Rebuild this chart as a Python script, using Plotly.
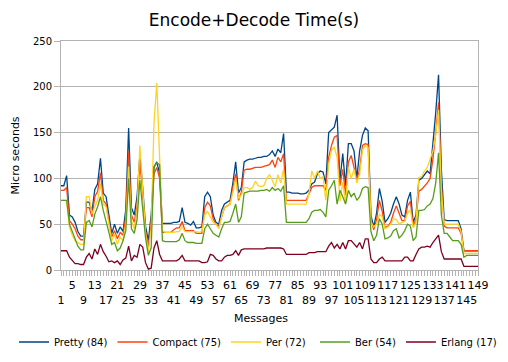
import plotly.graph_objects as go

messages = list(range(1, 150))

pretty = [92, 92, 103, 60, 58, 52, 42, 37, 37, 74,
          74, 64, 88, 94, 122, 84, 80, 62, 40, 50,
          40, 47, 42, 66, 155, 68, 60, 80, 126, 90,
          48, 32, 60, 112, 118, 105, 51, 51, 51, 51,
          52, 52, 53, 68, 52, 51, 49, 53, 46, 46,
          47, 80, 85, 80, 60, 52, 50, 65, 72, 74,
          76, 95, 118, 84, 90, 118, 120, 121, 121, 122,
          123, 123, 124, 124, 126, 130, 124, 132, 128, 149,
          85, 85, 84, 84, 84, 83, 83, 84, 87, 94,
          96, 105, 108, 107, 94, 150, 153, 156, 169, 98,
          127, 92, 138, 138, 130, 100, 130, 147, 155, 152,
          60, 47, 62, 89, 75, 52, 56, 62, 72, 80,
          72, 60, 58, 76, 85, 52, 60, 98, 100, 104,
          108, 105, 135, 172, 213, 110, 55, 54, 54, 54,
          54, 54, 45, 21, 21, 21, 21, 21, 21]

compact = [87, 87, 90, 54, 50, 45, 37, 33, 33, 68,
           68, 58, 80, 86, 106, 76, 72, 54, 36, 43,
           34, 41, 38, 58, 130, 60, 52, 70, 118, 82,
           42, 26, 50, 105, 112, 100, 41, 41, 41, 41,
           44, 46, 46, 53, 43, 43, 43, 43, 40, 40,
           40, 68, 74, 70, 56, 50, 48, 58, 68, 70,
           72, 90, 105, 76, 85, 109, 110, 110, 111, 112,
           112, 112, 113, 114, 115, 120, 112, 123, 118, 127,
           76, 76, 76, 76, 76, 76, 76, 76, 83, 90,
           92, 92, 92, 92, 87, 123, 136, 145, 147, 92,
           110, 82, 118, 125, 112, 98, 110, 136, 138, 137,
           55, 44, 55, 76, 64, 46, 48, 52, 62, 70,
           62, 54, 54, 70, 75, 48, 55, 86, 88, 91,
           95, 100, 121, 150, 183, 95, 48, 46, 46, 46,
           46, 46, 40, 21, 21, 21, 21, 21, 21]

per = [76, 76, 76, 47, 38, 32, 30, 28, 28, 80,
       80, 61, 69, 76, 94, 72, 69, 50, 32, 39,
       28, 36, 32, 50, 113, 54, 45, 65, 136, 88,
       40, 20, 45, 160, 204, 123, 43, 41, 41, 41,
       41, 42, 42, 47, 42, 42, 42, 42, 42, 41,
       42, 60, 64, 58, 52, 50, 45, 58, 68, 70,
       72, 85, 100, 78, 82, 90, 90, 88, 90, 97,
       92, 91, 92, 100, 104, 98, 91, 104, 95, 110,
       72, 72, 72, 72, 72, 72, 72, 72, 83, 108,
       100, 108, 100, 102, 76, 116, 131, 134, 123, 75,
       96, 72, 112, 100, 110, 95, 105, 131, 136, 134,
       52, 47, 50, 61, 58, 45, 47, 50, 56, 55,
       50, 52, 53, 62, 66, 46, 52, 101, 102, 108,
       112, 120, 130, 148, 175, 85, 50, 50, 50, 50,
       50, 50, 42, 18, 18, 18, 18, 18, 18]

ber = [76, 76, 76, 50, 42, 32, 26, 22, 22, 52,
       54, 47, 61, 69, 80, 65, 54, 41, 28, 30,
       21, 24, 32, 43, 100, 45, 40, 55, 98, 65,
       35, 16, 24, 113, 117, 115, 32, 31, 31, 31,
       31, 31, 33, 40, 32, 30, 30, 30, 29, 29,
       29, 45, 50, 45, 40, 38, 36, 45, 52, 52,
       53, 62, 72, 52, 58, 84, 85, 86, 86, 86,
       86, 87, 87, 88, 86, 90, 87, 89, 86, 92,
       52, 52, 52, 52, 52, 52, 52, 52, 56, 63,
       65, 65, 66, 63, 58, 87, 92, 98, 72, 87,
       80, 72, 87, 80, 84, 76, 80, 89, 91, 90,
       42, 32, 38, 56, 50, 34, 35, 37, 43, 45,
       35, 38, 43, 50, 48, 32, 36, 65, 65, 66,
       70, 72, 78, 95, 128, 60, 40, 40, 36, 32,
       32, 32, 28, 14, 16, 16, 16, 16, 16]

erlang = [21, 21, 21, 14, 10, 7, 7, 6, 6, 14,
          18, 12, 23, 17, 28, 20, 15, 9, 10, 8,
          10, 6, 11, 13, 26, 10, 16, 14, 28, 25,
          8, 1, 2, 24, 32, 17, 10, 10, 10, 10,
          10, 10, 12, 16, 10, 10, 10, 10, 10, 10,
          8, 8, 9, 17, 16, 12, 10, 10, 14, 16,
          16, 17, 21, 16, 22, 23, 23, 23, 23, 23,
          23, 23, 23, 24, 24, 24, 24, 24, 24, 23,
          17, 17, 17, 17, 17, 17, 17, 17, 19, 19,
          19, 20, 20, 20, 20, 26, 30, 24, 28, 23,
          30, 23, 32, 32, 28, 25, 30, 23, 34, 34,
          12, 8, 8, 12, 14, 10, 10, 10, 10, 10,
          10, 10, 14, 14, 10, 10, 17, 23, 25, 25,
          26, 25, 30, 34, 38, 20, 12, 12, 12, 12,
          12, 12, 12, 4, 4, 4, 4, 4, 4]

series_names = ["Pretty (84)", "Compact (75)", "Per (72)", "Ber (54)", "Erlang (17)"]
series_values = [pretty, compact, per, ber, erlang]
series_colors = ["#004586", "#ff420e", "#ffd320", "#579d1c", "#7e0021"]
series_legend = ["legend", "legend", "legend", "legend2", "legend2"]

# labels every 4 messages, alternating between an upper and a lower row
tick_values = list(range(1, 150, 4))
tick_labels = [("<br>" + str(v)) if ((v - 1) // 4) % 2 == 0 else str(v) for v in tick_values]

FONT = "DejaVu Sans"
GRID = "#b3b3b3"

fig = go.Figure()
for name, vals, col, lg in zip(series_names, series_values, series_colors, series_legend):
    fig.add_trace(go.Scatter(x=messages, y=vals, mode="lines", name=name, legend=lg,
                             line=dict(color=col, width=1.3)))

legend_common = dict(orientation="h", xref="container", yref="container",
                     xanchor="left", y=20 / 362, yanchor="middle",
                     itemwidth=30, borderwidth=0,
                     font=dict(family=FONT, size=10, color="black"),
                     bgcolor="rgba(0,0,0,0)", traceorder="normal")

fig.update_layout(
    width=508, height=362,
    paper_bgcolor="white", plot_bgcolor="white",
    margin=dict(l=61, r=30, t=41, b=92, autoexpand=False),
    font=dict(family=FONT, color="black", size=11),
    title=dict(text="Encode+Decode Time(s)", x=0.5, xanchor="center",
               y=1 - 20 / 362, yanchor="middle",
               font=dict(family=FONT, size=17, color="black")),
    showlegend=True,
    legend=dict(x=14 / 508, **legend_common),
    legend2=dict(x=315 / 508, **legend_common),
    xaxis=dict(range=[1, 149], tickmode="array", tickvals=tick_values, ticktext=tick_labels,
               automargin=False,
               showgrid=False, zeroline=False, showline=True, linecolor=GRID, linewidth=1,
               mirror=True, ticks="outside", ticklen=5, tickcolor=GRID,
               tickfont=dict(family=FONT, size=11, color="black"), tickangle=0,
               minor=dict(dtick=1, tick0=1, ticks="outside", ticklen=5, tickcolor=GRID,
                          showgrid=False)),
    yaxis=dict(range=[0, 250], dtick=50, tick0=0, showgrid=True, gridcolor=GRID, gridwidth=1,
               automargin=False,
               zeroline=False, showline=True, linecolor=GRID, linewidth=1, mirror=True,
               ticks="outside", ticklen=6, tickcolor=GRID,
               tickfont=dict(family=FONT, size=10, color="black")),
    annotations=[
        dict(text="Messages", xref="paper", yref="paper", x=0.48, y=-0.212,
             xanchor="center", yanchor="middle", showarrow=False,
             font=dict(family=FONT, size=11, color="black")),
        dict(text="Micro seconds", xref="paper", yref="paper", x=-0.108, y=0.5,
             xanchor="center", yanchor="middle", showarrow=False, textangle=-90,
             font=dict(family=FONT, size=11, color="black")),
    ],
)

fig.write_html("out.html", config={"displayModeBar": False},
               post_script="document.body.style.margin='0px';")
